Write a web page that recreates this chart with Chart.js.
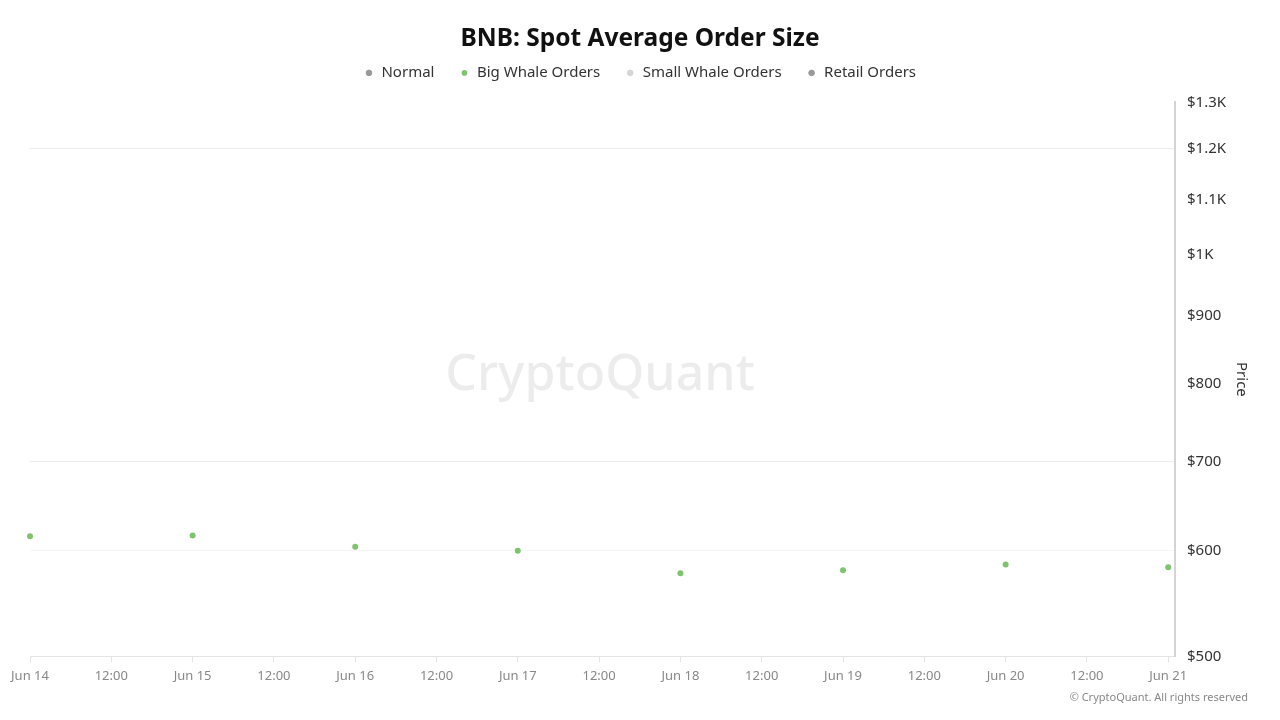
<!DOCTYPE html>
<html>
<head>
<meta charset="utf-8">
<script src="https://cdn.jsdelivr.net/npm/chart.js@4.4.1/dist/chart.umd.min.js"></script>
<style>
  html, body { margin: 0; padding: 0; background: #fff; }
  #wrap { width: 1280px; height: 720px; }
</style>
</head>
<body>
<div id="wrap"><canvas id="orderChart" width="1280" height="720"></canvas></div>
<script>
// data
const dayLabels = ["Jun 14", "Jun 15", "Jun 16", "Jun 17", "Jun 18", "Jun 19", "Jun 20", "Jun 21"];
const dayHours = [0, 24, 48, 72, 96, 120, 144, 168];
const bigWhaleOrders = [615, 616, 604, 600, 577, 580, 586, 583];
const normalOrders = [];
const smallWhaleOrders = [];
const retailOrders = [];
const priceTicks = [500, 600, 700, 800, 900, 1000, 1100, 1200, 1300];

const toPoints = (vals) => vals.map((v, i) => ({ x: dayHours[i], y: v }));

// watermark + copyright, and a bit of room under the legend
const decorations = {
  id: "decorations",
  beforeInit(chart) {
    const origFit = chart.legend.fit;
    chart.legend.fit = function () {
      origFit.bind(this)();
      this.height += 12;
    };
  },
  beforeDatasetsDraw(chart) {
    const ctx = chart.ctx;
    ctx.save();
    ctx.font = "500 50px 'Noto Sans'";
    ctx.fillStyle = "rgba(0,0,0,0.075)";
    ctx.textAlign = "center";
    ctx.textBaseline = "middle";
    ctx.fillText("CryptoQuant", 600, 376);
    ctx.restore();
  },
  afterDraw(chart) {
    const ctx = chart.ctx;
    ctx.save();
    ctx.font = "11px 'Noto Sans'";
    ctx.fillStyle = "#888";
    ctx.textAlign = "right";
    ctx.textBaseline = "middle";
    ctx.fillText("\u00A9 CryptoQuant. All rights reserved", 1248, 698);
    ctx.restore();
  }
};

const ctx = document.getElementById("orderChart").getContext("2d");

new Chart(ctx, {
  type: "scatter",
  data: {
    datasets: [
      { label: "Normal", data: toPoints(normalOrders), backgroundColor: "#999", borderColor: "#999" },
      { label: "Big Whale Orders", data: toPoints(bigWhaleOrders), backgroundColor: "#7fc36e", borderColor: "#7fc36e", pointRadius: 3, borderWidth: 0, clip: false },
      { label: "Small Whale Orders", data: toPoints(smallWhaleOrders), backgroundColor: "#d6d6d6", borderColor: "#d6d6d6" },
      { label: "Retail Orders", data: toPoints(retailOrders), backgroundColor: "#999", borderColor: "#999" },
    ],
  },
  options: {
    responsive: false,
    animation: false,
    layout: { padding: { left: 30, right: 30, top: 12, bottom: 30 } },
    plugins: {
      title: {
        display: true,
        text: "BNB: Spot Average Order Size",
        color: "#111",
        font: { family: "'Noto Sans'", size: 24.5, weight: "bold" },
        padding: { top: 12, bottom: -13 },
      },
      legend: {
        labels: {
          usePointStyle: true,
          pointStyle: "circle",
          boxWidth: 10,
          boxHeight: 4,
          padding: 25,
          color: "#333",
          font: { family: "'Noto Sans'", size: 15 },
        },
      },
      tooltip: { enabled: false },
    },
    scales: {
      x: {
        type: "linear",
        min: 0,
        max: 169,
        ticks: {
          stepSize: 12,
          includeBounds: false,
          color: "#888",
          font: { family: "'Noto Sans'", size: 13 },
          maxRotation: 0,
          padding: 6,
          callback: (value) => (value % 24 === 0 ? dayLabels[value / 24] : "12:00"),
        },
        grid: { drawOnChartArea: false, color: "#e4e4e4", tickLength: 6 },
        border: { color: "#e4e4e4" },
      },
      y: {
        type: "logarithmic",
        position: "right",
        min: 500,
        max: 1300,
        afterBuildTicks: (axis) => {
          axis.ticks = priceTicks.map((v) => ({ value: v }));
        },
        afterFit: (axis) => {
          axis.width = 75;
        },
        ticks: {
          color: "#333",
          padding: 12,
          font: { family: "'Noto Sans'", size: 15 },
          callback: (value) => (value >= 1000 ? "$" + value / 1000 + "K" : "$" + value),
        },
        grid: {
          drawTicks: false,
          color: (c) => {
            const v = c.tick && c.tick.value;
            if (v === 1200 || v === 700) return "#ececec";
            if (v === 600) return "#f6f6f6";
            return "rgba(0,0,0,0)";
          },
        },
        border: { color: "#d4d4d4", width: 2 },
        title: {
          display: true,
          text: "Price",
          color: "#333",
          font: { family: "'Noto Sans'", size: 15 },
          padding: { top: 0, bottom: 0 },
        },
      },
    },
  },
  plugins: [decorations],
});
</script>
</body>
</html>
